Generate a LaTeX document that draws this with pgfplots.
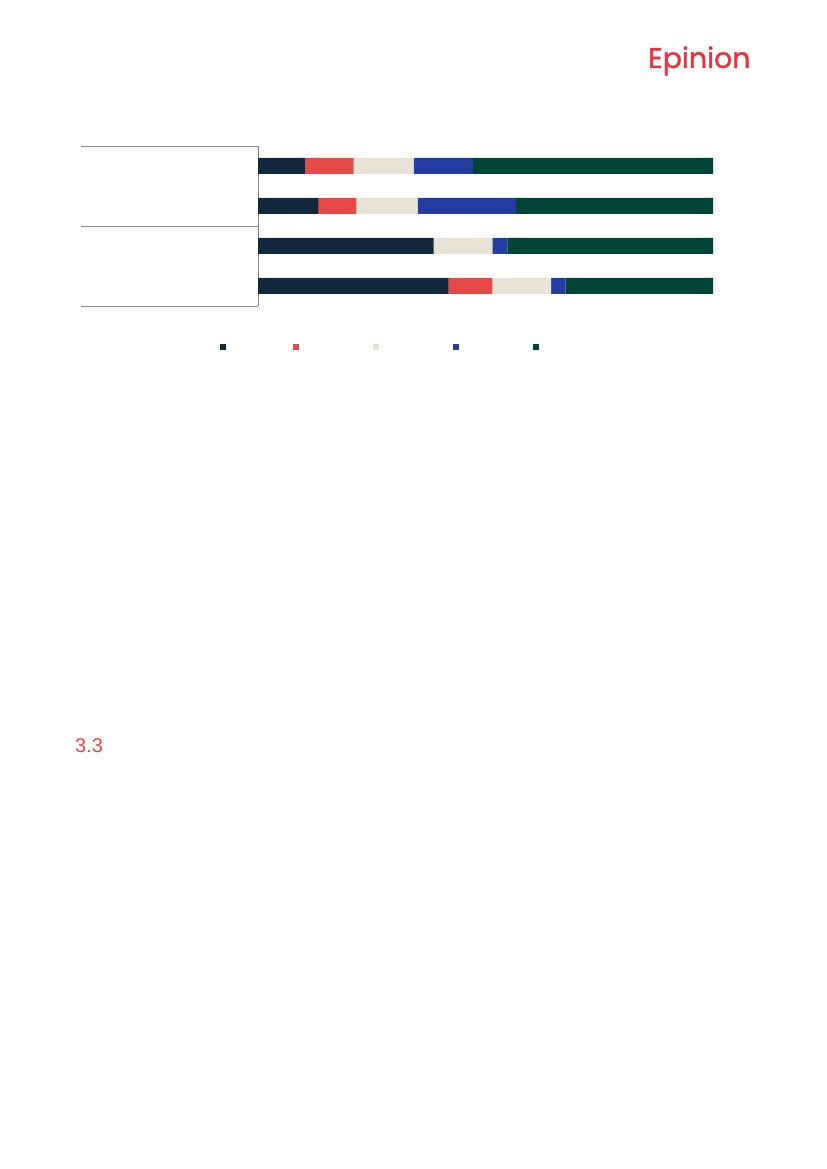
\documentclass[border=0pt]{standalone}
\usepackage{fontspec}
\setmainfont{Liberation Sans}
\newfontfamily\logofont{Poppins}[FakeBold=1.4]
\usepackage{pgfplots}
\pgfplotsset{compat=1.18}

\definecolor{cnavy}{HTML}{12283D}
\definecolor{cred}{HTML}{E34A48}
\definecolor{cbeige}{HTML}{E8E2D7}
\definecolor{cblue}{HTML}{253DA1}
\definecolor{cgreen}{HTML}{004538}
\definecolor{logored}{HTML}{E8343C}
\definecolor{lgrey}{HTML}{888888}

\begin{document}
\begin{tikzpicture}[x=1bp,y=1bp]
  % page frame, 827 x 1169
  \path[use as bounding box, fill=white] (0,0) rectangle (827,1169);

  \node[anchor=base west, inner sep=0pt, text=logored, font=\logofont\fontsize{28.5}{28.5}\selectfont]
    at (648,1101) {Epinion};
  \node[anchor=base west, inner sep=0pt, text=cred, font=\fontsize{20}{20}\selectfont]
    at (75,416) {3.3};

  % group separators on the left
  \draw[lgrey, line width=0.8bp] (81,1023) -- (258,1023);
  \draw[lgrey, line width=0.8bp] (81,943) -- (258,943);
  \draw[lgrey, line width=0.8bp] (81,863) -- (258,863);

  \begin{axis}[
      at={(258bp,863bp)}, anchor=south west,
      scale only axis, width=455bp, height=160bp,
      xbar stacked, bar width=16bp,
      xmin=0, xmax=100, ymin=0.5, ymax=4.5, y dir=reverse,
      axis x line=none, axis y line=left,
      axis line style={-, lgrey, line width=0.8bp},
      xtick=\empty, ytick=\empty,
      every axis plot/.append style={draw=none},
      legend columns=5,
      legend style={draw=none, fill=none, at={(0.268,-0.256)}, anchor=center,
        nodes={inner sep=0pt}, column sep=0pt},
      legend image code/.code={\fill[#1] (0bp,-3.4bp) rectangle (6.8bp,3.4bp);},
    ]
    \addplot+[fill=cnavy] coordinates {(10.4,1) (13.3,2) (38.6,3) (41.9,4)};
    \addlegendentry{\hspace*{66.2bp}}
    \addplot+[fill=cred] coordinates {(10.6,1) (8.3,2) (0,3) (9.6,4)};
    \addlegendentry{\hspace*{73.2bp}}
    \addplot+[fill=cbeige] coordinates {(13.2,1) (13.5,2) (12.9,3) (12.9,4)};
    \addlegendentry{\hspace*{73.2bp}}
    \addplot+[fill=cblue] coordinates {(13.0,1) (21.6,2) (3.3,3) (3.2,4)};
    \addlegendentry{\hspace*{73.2bp}}
    \addplot+[fill=cgreen] coordinates {(52.8,1) (43.3,2) (45.2,3) (32.4,4)};
    \addlegendentry{}
  \end{axis}
\end{tikzpicture}
\end{document}
